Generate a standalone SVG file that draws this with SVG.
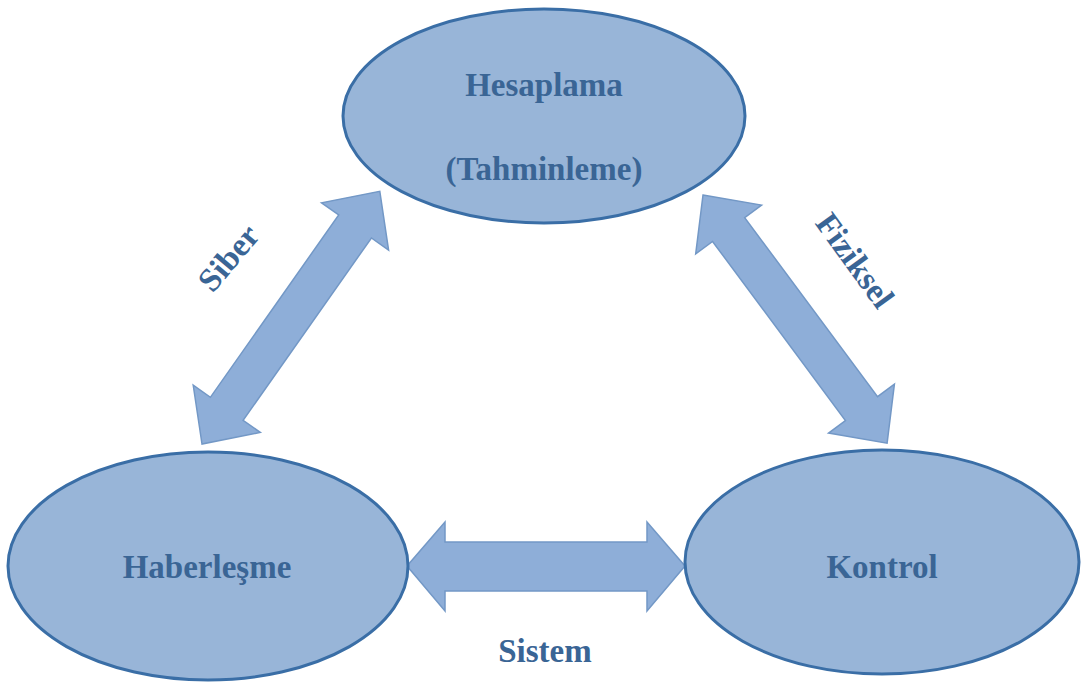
<svg xmlns="http://www.w3.org/2000/svg" width="1081" height="684" viewBox="0 0 1081 684">
<style>
.node{fill:#98b5d8;stroke:#3a6ea6;stroke-width:3}
.arr{fill:#8eaed8;stroke:#7398c6;stroke-width:1.5;stroke-linejoin:miter}
.t{font-family:"Liberation Serif","Times New Roman",serif;font-weight:bold;font-size:33px;fill:#3a6595;text-anchor:middle}
</style>
<rect width="1081" height="684" fill="#ffffff"/>
<g id="connectors">
<g id="arrow-siber" transform="translate(202,444) rotate(-54.87)">
<path class="arr" d="M0,0 L43,-41 L43,-20 L266,-20 L266,-41 L309,0 L266,41 L266,20 L43,20 L43,41 Z"/>
</g>
<g id="arrow-fiziksel" transform="translate(703,195) rotate(53.43)">
<path class="arr" d="M0,0 L43,-41 L43,-20 L266,-20 L266,-41 L309,0 L266,41 L266,20 L43,20 L43,41 Z"/>
</g>
<g id="arrow-sistem" transform="translate(407,566)">
<path class="arr" d="M0,0 L38,-44 L38,-24 L240,-24 L240,-44 L278,0 L240,45 L240,25 L38,25 L38,45 Z"/>
</g>
<text class="t" transform="translate(237,265) rotate(-50)">Siber</text>
<text class="t" transform="translate(846,267) rotate(54)">Fiziksel</text>
<text class="t" x="545" y="662">Sistem</text>
</g>
<g id="node-hesaplama">
<ellipse class="node" cx="544" cy="116" rx="201" ry="107"/>
<text class="t" x="544" y="96">Hesaplama</text>
<text class="t" x="544" y="180">(Tahminleme)</text>
</g>
<g id="node-haberlesme">
<ellipse class="node" cx="208" cy="566" rx="200" ry="114"/>
<text class="t" x="207" y="578">Haberleşme</text>
</g>
<g id="node-kontrol">
<ellipse class="node" cx="882" cy="562" rx="197" ry="112"/>
<text class="t" x="882" y="578">Kontrol</text>
</g>
</svg>
